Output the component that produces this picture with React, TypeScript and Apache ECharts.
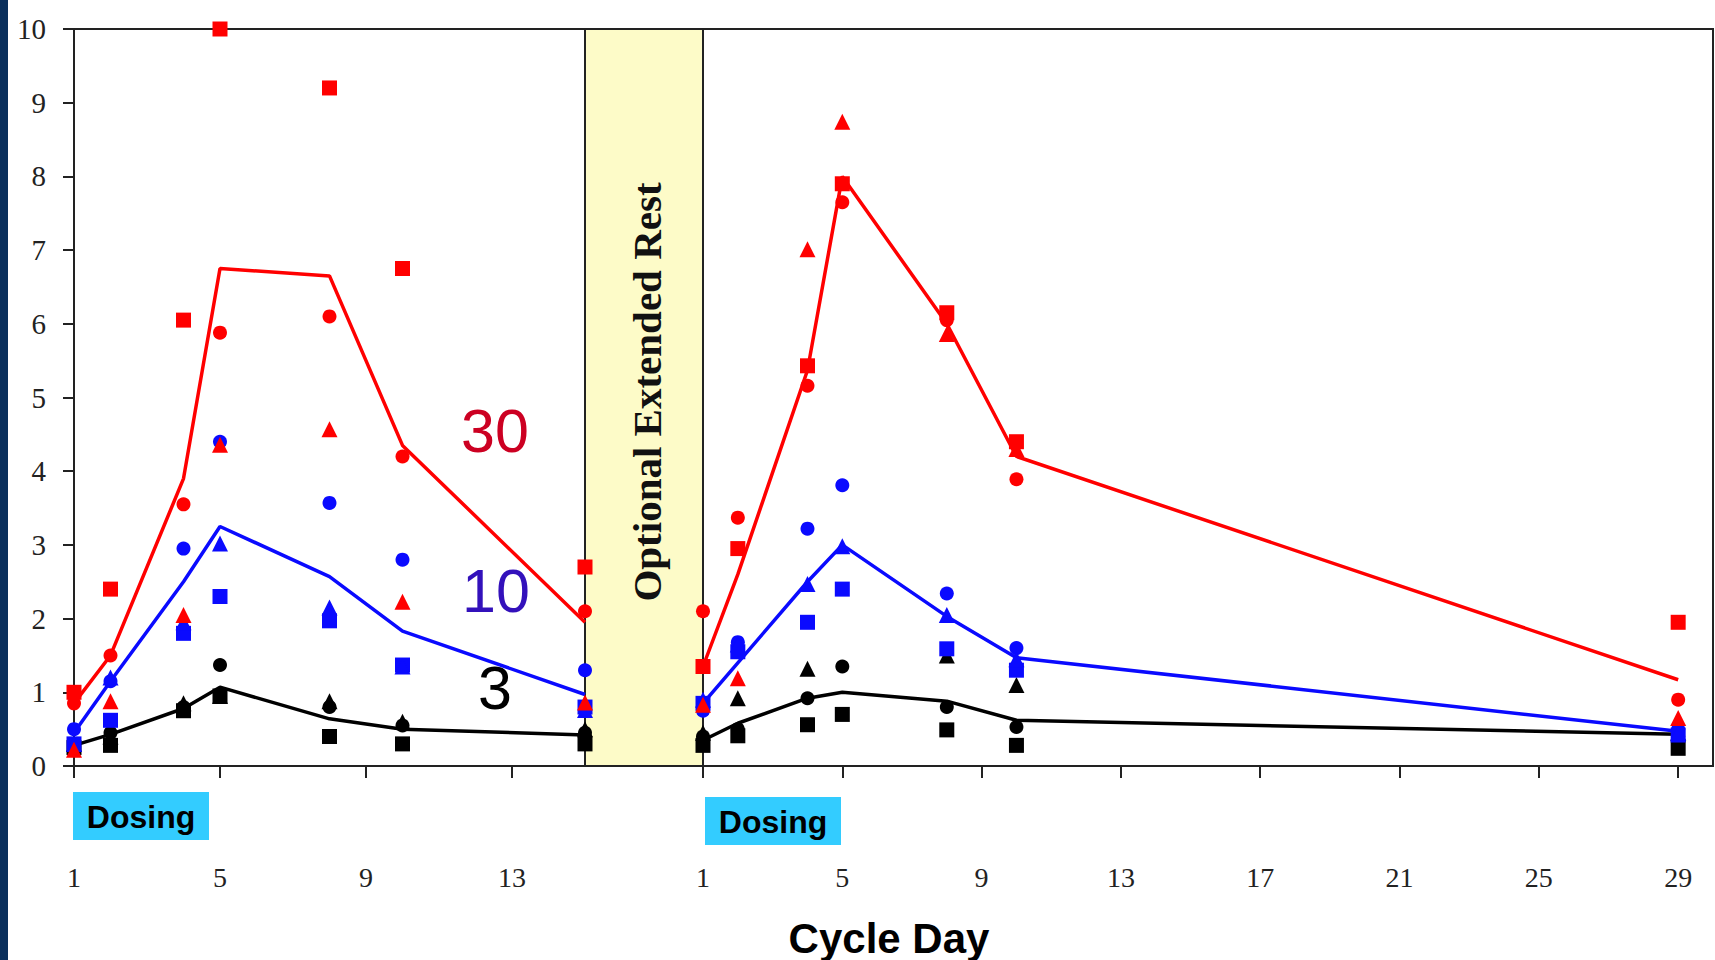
import React, { useEffect, useRef } from "react";
import * as echarts from "echarts";

// ---- data ----
const days1 = [1, 2, 4, 5, 8, 10, 15];
const days2 = [1, 2, 4, 5, 8, 10, 29];
const xTicks1 = [1, 5, 9, 13];
const xTicks2 = [1, 5, 9, 13, 17, 21, 25, 29];
const yTicks = [0, 1, 2, 3, 4, 5, 6, 7, 8, 9, 10];

// 30 mg (red)
const red30Mean1 = [0.85, 1.5, 3.9, 6.75, 6.65, 4.35, 1.95];
const red30Sq1 = [1.0, 2.4, 6.05, 10.0, 9.2, 6.75, 2.7];
const red30Ci1 = [0.85, 1.5, 3.55, 5.88, 6.1, 4.2, 2.1];
const red30Tr1 = [0.22, 0.88, 2.05, 4.36, 4.57, 2.23, 0.86];
const red30Mean2 = [1.35, 2.6, 5.37, 8.0, 6.0, 4.2, 1.17];
const red30Sq2 = [1.35, 2.95, 5.43, 7.9, 6.15, 4.4, 1.95];
const red30Ci2 = [2.1, 3.37, 5.16, 7.65, 6.05, 3.89, 0.9];
const red30Tr2 = [0.83, 1.19, 7.01, 8.74, 5.86, 4.3, 0.65];

// 10 mg (blue)
const blue10Mean1 = [0.45, 1.15, 2.5, 3.25, 2.57, 1.83, 0.97];
const blue10Sq1 = [0.3, 0.62, 1.8, 2.3, 1.97, 1.37, 0.8];
const blue10Ci1 = [0.5, 1.15, 2.95, 4.4, 3.57, 2.8, 1.3];
const blue10Tr1 = [0.3, 1.2, 1.95, 3.02, 2.15, 1.35, 0.76];
const blue10Mean2 = [0.85, 1.4, 2.5, 3.0, 2.03, 1.47, 0.47];
const blue10Sq2 = [0.85, 1.55, 1.95, 2.4, 1.59, 1.3, 0.42];
const blue10Ci2 = [0.75, 1.68, 3.22, 3.81, 2.34, 1.6, 0.5];
const blue10Tr2 = [0.9, 1.65, 2.47, 2.98, 2.05, 1.45, 0.45];

// 3 mg (black)
const black3Mean1 = [0.28, 0.43, 0.78, 1.07, 0.64, 0.5, 0.42];
const black3Sq1 = [0.25, 0.28, 0.75, 0.95, 0.4, 0.3, 0.3];
const black3Ci1 = [0.3, 0.45, 0.8, 1.37, 0.8, 0.55, 0.45];
const black3Tr1 = [0.3, 0.4, 0.85, 0.95, 0.88, 0.6, 0.5];
const black3Mean2 = [0.35, 0.58, 0.92, 1.0, 0.88, 0.62, 0.43];
const black3Sq2 = [0.28, 0.41, 0.56, 0.7, 0.49, 0.28, 0.24];
const black3Ci2 = [0.4, 0.5, 0.92, 1.35, 0.8, 0.53, 0.4];
const black3Tr2 = [0.45, 0.92, 1.32, null, 1.5, 1.1, 0.45];

const RED = "#ff0000";
const BLUE = "#0a0aff";
const BLACK = "#000000";

function pairs(days: number[], vals: (number | null)[]) {
  const out: number[][] = [];
  days.forEach((d, i) => {
    const v = vals[i];
    if (v !== null && v !== undefined) out.push([d, v]);
  });
  return out;
}

function lineSeries(days: number[], vals: number[], color: string, idx: number) {
  return {
    type: "line",
    xAxisIndex: idx,
    yAxisIndex: idx,
    data: pairs(days, vals),
    symbol: "none",
    lineStyle: { color, width: 3.5 },
    z: 3,
  };
}

function scatterSeries(days: number[], vals: (number | null)[], color: string, symbol: string, idx: number) {
  const size = symbol === "rect" ? 15 : symbol === "triangle" ? 16 : 14;
  return {
    type: "scatter",
    xAxisIndex: idx,
    yAxisIndex: idx,
    data: pairs(days, vals),
    symbol,
    symbolSize: size,
    itemStyle: { color, opacity: 1 },
    z: 4,
  };
}

const serif = "'Liberation Serif', 'Times New Roman', serif";
const sans = "'Liberation Sans', Arial, sans-serif";

export default function App() {
  const ref = useRef<HTMLDivElement>(null);

  useEffect(() => {
    if (!ref.current) return;
    const chart = echarts.init(ref.current, undefined, { renderer: "svg" });

    const groups = [
      { c: BLACK, m1: black3Mean1, s1: black3Sq1, c1: black3Ci1, t1: black3Tr1, m2: black3Mean2, s2: black3Sq2, c2: black3Ci2, t2: black3Tr2 },
      { c: BLUE, m1: blue10Mean1, s1: blue10Sq1, c1: blue10Ci1, t1: blue10Tr1, m2: blue10Mean2, s2: blue10Sq2, c2: blue10Ci2, t2: blue10Tr2 },
      { c: RED, m1: red30Mean1, s1: red30Sq1, c1: red30Ci1, t1: red30Tr1, m2: red30Mean2, s2: red30Sq2, c2: red30Ci2, t2: red30Tr2 },
    ];

    const series: any[] = [];
    groups.forEach((g) => {
      series.push(scatterSeries(days1, g.s1, g.c, "rect", 0));
      series.push(scatterSeries(days1, g.c1, g.c, "circle", 0));
      series.push(scatterSeries(days1, g.t1, g.c, "triangle", 0));
      series.push(lineSeries(days1, g.m1, g.c, 0));
      series.push(scatterSeries(days2, g.s2, g.c, "rect", 1));
      series.push(scatterSeries(days2, g.c2, g.c, "circle", 1));
      series.push(scatterSeries(days2, g.t2, g.c, "triangle", 1));
      series.push(lineSeries(days2, g.m2, g.c, 1));
    });

    const axisColor = "#222";
    const xLabel = {
      color: "#222",
      fontFamily: serif,
      fontSize: 28,
      margin: 97,
    };

    chart.setOption({
      animation: false,
      backgroundColor: "#ffffff",
      grid: [
        { left: 74, top: 29, width: 511, height: 737, show: true, borderColor: axisColor, borderWidth: 2, backgroundColor: "transparent" },
        { left: 703, top: 29, width: 1010, height: 737, show: true, borderColor: axisColor, borderWidth: 2, backgroundColor: "transparent" },
      ],
      xAxis: [
        {
          type: "value", gridIndex: 0, min: 1, max: 15,
          axisLine: { show: true, onZero: false, lineStyle: { color: axisColor, width: 2 } },
          axisTick: { show: true, inside: false, length: 12, lineStyle: { color: axisColor, width: 2 }, customValues: xTicks1 },
          axisLabel: { ...xLabel, customValues: xTicks1 },
          splitLine: { show: false },
        },
        {
          type: "value", gridIndex: 1, min: 1, max: 30,
          axisLine: { show: true, onZero: false, lineStyle: { color: axisColor, width: 2 } },
          axisTick: { show: true, inside: false, length: 12, lineStyle: { color: axisColor, width: 2 }, customValues: xTicks2 },
          axisLabel: { ...xLabel, customValues: xTicks2 },
          splitLine: { show: false },
        },
      ],
      yAxis: [
        {
          type: "value", gridIndex: 0, min: 0, max: 10, interval: 1,
          axisLine: { show: true, lineStyle: { color: axisColor, width: 2 } },
          axisTick: { show: true, inside: false, length: 11, lineStyle: { color: axisColor, width: 2 }, customValues: yTicks },
          axisLabel: { color: "#222", fontFamily: serif, fontSize: 29, margin: 28, customValues: yTicks },
          splitLine: { show: false },
        },
        {
          type: "value", gridIndex: 1, min: 0, max: 10, interval: 1,
          axisLine: { show: true, lineStyle: { color: axisColor, width: 2 } },
          axisTick: { show: false },
          axisLabel: { show: false },
          splitLine: { show: false },
        },
      ],
      series,
      graphic: [
        { type: "rect", z: 100, shape: { x: 0, y: 0, width: 8, height: 960 }, style: { fill: "#0a2f5c" } },
        { type: "rect", z: -1, shape: { x: 586, y: 30, width: 116, height: 735 }, style: { fill: "#fdfbc8" } },
        { type: "line", shape: { x1: 585, y1: 29, x2: 703, y2: 29 }, style: { stroke: axisColor, lineWidth: 2 } },
        { type: "line", shape: { x1: 585, y1: 766, x2: 703, y2: 766 }, style: { stroke: axisColor, lineWidth: 2 } },
        {
          type: "text", x: 647, y: 392, rotation: Math.PI / 2,
          style: { text: "Optional Extended Rest", fill: "#111", font: `bold 41px ${serif}`, align: "center", verticalAlign: "middle" },
        },
        { type: "rect", shape: { x: 73, y: 792, width: 136, height: 48 }, style: { fill: "#33ccff" } },
        { type: "text", x: 141, y: 817, style: { text: "Dosing", fill: "#000", font: `bold 32px ${sans}`, align: "center", verticalAlign: "middle" } },
        { type: "rect", shape: { x: 705, y: 797, width: 136, height: 48 }, style: { fill: "#33ccff" } },
        { type: "text", x: 773, y: 822, style: { text: "Dosing", fill: "#000", font: `bold 32px ${sans}`, align: "center", verticalAlign: "middle" } },
        { type: "text", x: 495, y: 431, style: { text: "30", fill: "#cc0022", font: `61px ${sans}`, align: "center", verticalAlign: "middle" } },
        { type: "text", x: 496, y: 591, style: { text: "10", fill: "#3311bb", font: `61px ${sans}`, align: "center", verticalAlign: "middle" } },
        { type: "text", x: 495, y: 688, style: { text: "3", fill: "#000", font: `61px ${sans}`, align: "center", verticalAlign: "middle" } },
        { type: "text", x: 889, y: 938, style: { text: "Cycle Day", fill: "#000", font: `bold 42px ${sans}`, align: "center", verticalAlign: "middle" } },
      ],
    });

    return () => chart.dispose();
  }, []);

  return <div ref={ref} style={{ position: "absolute", left: 0, top: 0, width: 1715, height: 960 }} />;
}
